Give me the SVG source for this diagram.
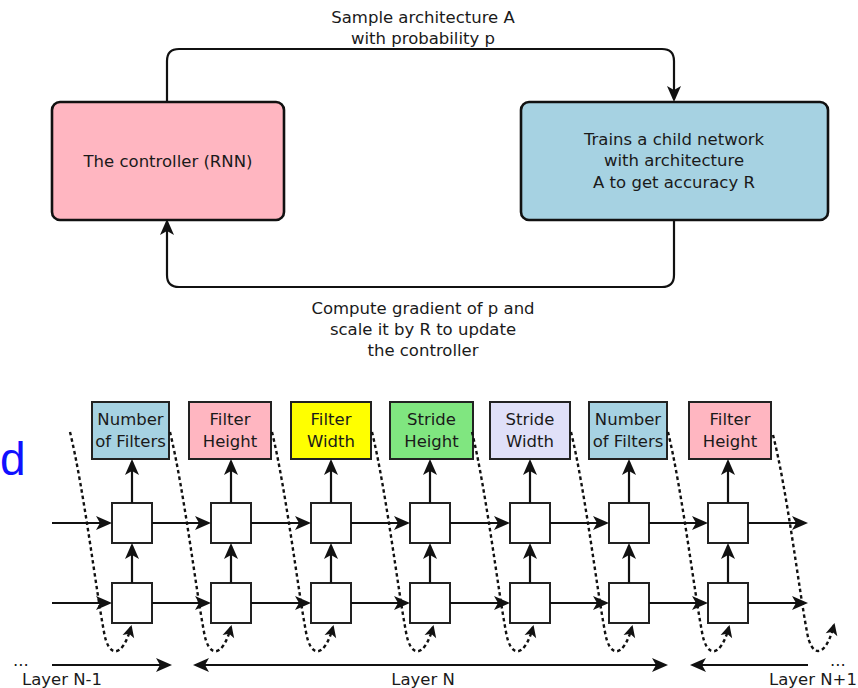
<svg xmlns="http://www.w3.org/2000/svg" width="858" height="688" viewBox="0 0 858 688">
<style>
text{font-family:"DejaVu Sans","Liberation Sans",sans-serif;fill:#1a1a1a;font-size:16.5px}
.c{text-anchor:middle}
.big{stroke:#111;stroke-width:2.6}
.lbl{stroke:#222;stroke-width:2}
.cell{fill:#fff;stroke:#222;stroke-width:2}
.ln{fill:none;stroke:#111;stroke-width:2.2;marker-end:url(#ah)}
.dot{fill:none;stroke:#111;stroke-width:2.4;stroke-dasharray:3.5 3;marker-end:url(#ad)}
</style>
<defs>
<marker id="ah" markerUnits="userSpaceOnUse" viewBox="-15 -8 18 16" refX="0" refY="0" markerWidth="18" markerHeight="16" orient="auto-start-reverse">
<path d="M3,0 L-13,-7 L-9,0 L-13,7 Z" fill="#111"/>
</marker>
<marker id="ad" markerUnits="userSpaceOnUse" viewBox="-12 -7 15 14" refX="0" refY="0" markerWidth="15" markerHeight="14" orient="auto">
<path d="M2,0 L-10,-6 L-7,0 L-10,6 Z" fill="#111"/>
</marker>
</defs>

<g id="controller">
<rect x="52" y="102" width="232" height="118" rx="8" fill="#FFB6C1" class="big"/>
<text class="c" x="168" y="167">The controller (RNN)</text>
</g>
<g id="child">
<rect x="521" y="102" width="307" height="118" rx="8" fill="#A6D2E2" class="big"/>
<text class="c" x="674" y="145">Trains a child network</text>
<text class="c" x="674" y="166">with architecture</text>
<text class="c" x="674" y="188">A to get accuracy R</text>
</g>
<g id="top-labels">
<text class="c" x="423" y="23">Sample architecture A</text>
<text class="c" x="423" y="44">with probability p</text>
<text class="c" x="423" y="314">Compute gradient of p and</text>
<text class="c" x="423" y="335">scale it by R to update</text>
<text class="c" x="423" y="356">the controller</text>
</g>

<text x="0" y="475" style="font-family:'Liberation Sans',sans-serif;font-size:46px;fill:#1010ff">d</text>

<g id="outputs">
<g id="o1"><rect x="92" y="402" width="77" height="57" fill="#A6D2E2" class="lbl"/><text class="c" x="130.5" y="425">Number</text><text class="c" x="130.5" y="447">of Filters</text></g>
<g id="o2"><rect x="189" y="402" width="82" height="57" fill="#FFB6C1" class="lbl"/><text class="c" x="230" y="425">Filter</text><text class="c" x="230" y="447">Height</text></g>
<g id="o3"><rect x="291" y="402" width="80" height="57" fill="#FFFF00" class="lbl"/><text class="c" x="331" y="425">Filter</text><text class="c" x="331" y="447">Width</text></g>
<g id="o4"><rect x="390" y="402" width="83" height="57" fill="#80E680" class="lbl"/><text class="c" x="431.5" y="425">Stride</text><text class="c" x="431.5" y="447">Height</text></g>
<g id="o5"><rect x="490" y="402" width="80" height="57" fill="#E0E0F8" class="lbl"/><text class="c" x="530" y="425">Stride</text><text class="c" x="530" y="447">Width</text></g>
<g id="o6"><rect x="589" y="402" width="78" height="57" fill="#A6D2E2" class="lbl"/><text class="c" x="628" y="425">Number</text><text class="c" x="628" y="447">of Filters</text></g>
<g id="o7"><rect x="689" y="402" width="82" height="57" fill="#FFB6C1" class="lbl"/><text class="c" x="730" y="425">Filter</text><text class="c" x="730" y="447">Height</text></g>
</g>

<g id="cells">
<rect id="c1a" class="cell" x="112" y="503" width="40" height="40"/>
<rect id="c2a" class="cell" x="211" y="503" width="40" height="40"/>
<rect id="c3a" class="cell" x="311" y="503" width="40" height="40"/>
<rect id="c4a" class="cell" x="410" y="503" width="40" height="40"/>
<rect id="c5a" class="cell" x="510" y="503" width="40" height="40"/>
<rect id="c6a" class="cell" x="609" y="503" width="40" height="40"/>
<rect id="c7a" class="cell" x="708" y="503" width="40" height="40"/>
<rect id="c1b" class="cell" x="112" y="583" width="40" height="40"/>
<rect id="c2b" class="cell" x="211" y="583" width="40" height="40"/>
<rect id="c3b" class="cell" x="311" y="583" width="40" height="40"/>
<rect id="c4b" class="cell" x="410" y="583" width="40" height="40"/>
<rect id="c5b" class="cell" x="510" y="583" width="40" height="40"/>
<rect id="c6b" class="cell" x="609" y="583" width="40" height="40"/>
<rect id="c7b" class="cell" x="708" y="583" width="40" height="40"/>
</g>

<g id="connectors">
<path class="ln" d="M167,102 V61 Q167,49 179,49 H662 Q674,49 674,61 V99"/>
<path class="ln" d="M674,220 V275 Q674,287 662,287 H179 Q167,287 167,275 V222"/>

<path class="ln" d="M132,503 V462"/>
<path class="ln" d="M231,503 V462"/>
<path class="ln" d="M331,503 V462"/>
<path class="ln" d="M430,503 V462"/>
<path class="ln" d="M530,503 V462"/>
<path class="ln" d="M629,503 V462"/>
<path class="ln" d="M728,503 V462"/>
<path class="ln" d="M132,583 V546"/>
<path class="ln" d="M231,583 V546"/>
<path class="ln" d="M331,583 V546"/>
<path class="ln" d="M430,583 V546"/>
<path class="ln" d="M530,583 V546"/>
<path class="ln" d="M629,583 V546"/>
<path class="ln" d="M728,583 V546"/>

<path class="ln" d="M52,523 H109"/>
<path class="ln" d="M152,523 H208"/>
<path class="ln" d="M251,523 H308"/>
<path class="ln" d="M351,523 H407"/>
<path class="ln" d="M450,523 H507"/>
<path class="ln" d="M550,523 H606"/>
<path class="ln" d="M649,523 H705"/>
<path class="ln" d="M748,523 H805"/>
<path class="ln" d="M52,603 H109"/>
<path class="ln" d="M152,603 H208"/>
<path class="ln" d="M251,603 H308"/>
<path class="ln" d="M351,603 H407"/>
<path class="ln" d="M450,603 H507"/>
<path class="ln" d="M550,603 H606"/>
<path class="ln" d="M649,603 H705"/>
<path class="ln" d="M748,603 H805"/>

<path class="dot" d="M70,432 C84,490 96,590 104,632 C108,657 122,660 131,627"/>
<path class="dot" d="M170,432 C184,490 196,590 204,632 C208,657 222,660 231,627"/>
<path class="dot" d="M272,432 C286,490 298,590 306,632 C310,657 324,660 333,627"/>
<path class="dot" d="M372,432 C386,490 398,590 406,632 C410,657 424,660 433,627"/>
<path class="dot" d="M472,432 C486,490 498,590 506,632 C510,657 524,660 533,627"/>
<path class="dot" d="M571,432 C585,490 597,590 605,632 C609,657 623,660 632,627"/>
<path class="dot" d="M668,432 C682,490 694,590 702,632 C706,657 720,660 729,627"/>
<path class="dot" d="M773,435 C787,490 799,590 807,632 C811,657 825,660 834,625"/>

<path class="ln" d="M52,665 H169"/>
<path class="ln" style="marker-start:url(#ah)" d="M196,665 H665"/>
<path class="ln" d="M808,665 H693"/>
</g>

<g id="layer-labels">
<text x="13" y="666">...</text>
<text x="830" y="666">...</text>
<text x="22" y="685">Layer N-1</text>
<text class="c" x="423" y="685">Layer N</text>
<text x="769" y="685">Layer N+1</text>
</g>
</svg>
